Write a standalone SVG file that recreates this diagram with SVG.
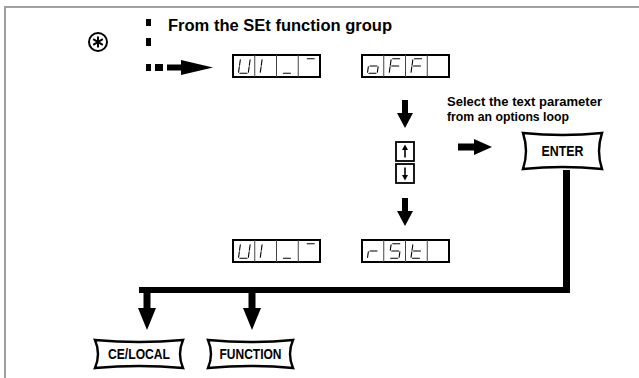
<svg xmlns="http://www.w3.org/2000/svg" xmlns:xlink="http://www.w3.org/1999/xlink" width="639" height="378" viewBox="0 0 639 378">
<style>
.frame{stroke:#a0a0a0;stroke-width:2;fill:none}
.lbl{font-family:"Liberation Sans",Arial,sans-serif;font-weight:bold;fill:#000}
.disp{fill:#fff;stroke:#000;stroke-width:2}
.sep{stroke:#444;stroke-width:1}
.seg{stroke:#000;stroke-width:1.1;fill:none;stroke-linecap:round}
.btn{fill:#fff;stroke:#000;stroke-width:2.4;stroke-linejoin:miter}
.blk{fill:#000}
.small{fill:#fff;stroke:#000;stroke-width:1.8}
</style>
<defs>
<path id="sa" d="M8,3.8 H15"/>
<path id="sf" d="M6.5,4.8 V10.3"/>
<path id="sb" d="M16.3,4.8 V10.3"/>
<path id="sg" d="M8,11 H15"/>
<path id="se" d="M6.5,11.8 V17.3"/>
<path id="sc" d="M16.3,11.8 V17.3"/>
<path id="sd" d="M8,18.3 H15"/>
</defs>

<g id="frame">
<path class="frame" d="M5,378 V7 H639"/>
</g>

<g id="note">
<circle cx="98" cy="42" r="9" fill="none" stroke="#000" stroke-width="2"/>
<path d="M98,36.5 V47.5 M93.2,39.2 L102.8,44.8 M93.2,44.8 L102.8,39.2" stroke="#000" stroke-width="2"/>
<text class="lbl" x="168" y="31" font-size="16" textLength="224" lengthAdjust="spacingAndGlyphs">From the SEt function group</text>
</g>

<g id="connectors">
<rect class="blk" x="146" y="19" width="5" height="7"/>
<rect class="blk" x="146" y="38" width="5" height="8"/>
<rect class="blk" x="146" y="64" width="5" height="7"/>
<rect class="blk" x="155" y="64" width="8" height="7"/>
<path class="blk" d="M167,64.5 H181 V60 L213,67.5 L181,75 V70.5 H167 Z"/>
<path class="blk" d="M402,100 H408 V113 H413 L405,128 L397,113 H402 Z"/>
<path class="blk" d="M402,198 H408 V211 H413 L405,226 L397,211 H402 Z"/>
<path class="blk" d="M458,143.5 H474 V139 L492,147 L474,155 V150.5 H458 Z"/>
<path class="blk" d="M563,170 H570 V293 H139 V287 H563 Z"/>
<path class="blk" d="M143.5,293 H150.5 V308 H156 L147,330 L138,308 H143.5 Z"/>
<path class="blk" d="M248.5,293 H255.5 V308 H261 L252,330 L243,308 H248.5 Z"/>
</g>

<g id="disp-ui-top">
<rect class="disp" x="233" y="55" width="87" height="22"/>
<path class="sep" d="M254.75,55 V77 M276.5,55 V77 M298.25,55 V77"/>
<g class="seg" transform="translate(234.5,55) skewX(-8)"><use href="#sf"/><use href="#se"/><use href="#sd"/><use href="#sc"/><use href="#sb"/></g>
<g class="seg" transform="translate(256.25,55) skewX(-8)"><use href="#sf"/><use href="#se"/></g>
<g class="seg" transform="translate(278,55) skewX(-8)"><use href="#sd"/></g>
<g class="seg" transform="translate(299.75,55) skewX(-8)"><use href="#sa"/></g>
</g>

<g id="disp-off">
<rect class="disp" x="362" y="55" width="87" height="22"/>
<path class="sep" d="M383.75,55 V77 M405.5,55 V77 M427.25,55 V77"/>
<g class="seg" transform="translate(363.5,55) skewX(-8)"><use href="#sg"/><use href="#se"/><use href="#sd"/><use href="#sc"/></g>
<g class="seg" transform="translate(385.25,55) skewX(-8)"><use href="#sa"/><use href="#sf"/><use href="#sg"/><use href="#se"/></g>
<g class="seg" transform="translate(407,55) skewX(-8)"><use href="#sa"/><use href="#sf"/><use href="#sg"/><use href="#se"/></g>
</g>

<g id="key-up">
<rect class="small" x="396" y="142" width="18" height="19"/>
<path d="M405,157.5 V149" stroke="#000" stroke-width="1.6"/>
<path class="blk" d="M402,150 L405,144.5 L408,150 Z"/>
</g>

<g id="key-down">
<rect class="small" x="396" y="164" width="18" height="19"/>
<path d="M405,167.5 V176" stroke="#000" stroke-width="1.6"/>
<path class="blk" d="M402,175 L405,180.5 L408,175 Z"/>
</g>

<g id="hint">
<text class="lbl" x="447" y="106" font-size="13" textLength="155" lengthAdjust="spacingAndGlyphs">Select the text parameter</text>
<text class="lbl" x="447" y="121" font-size="13" textLength="122" lengthAdjust="spacingAndGlyphs">from an options loop</text>
</g>

<g id="btn-enter">
<path class="btn" d="M523,133 Q562.5,137 602,133 Q596,151 602,169 Q562.5,165 523,169 Q529,151 523,133 Z"/>
<text class="lbl" x="562.5" y="156" font-size="14" text-anchor="middle" textLength="42" lengthAdjust="spacingAndGlyphs">ENTER</text>
</g>

<g id="disp-ui-bottom">
<rect class="disp" x="233" y="240" width="87" height="22"/>
<path class="sep" d="M254.75,240 V262 M276.5,240 V262 M298.25,240 V262"/>
<g class="seg" transform="translate(234.5,240) skewX(-8)"><use href="#sf"/><use href="#se"/><use href="#sd"/><use href="#sc"/><use href="#sb"/></g>
<g class="seg" transform="translate(256.25,240) skewX(-8)"><use href="#sf"/><use href="#se"/></g>
<g class="seg" transform="translate(278,240) skewX(-8)"><use href="#sd"/></g>
<g class="seg" transform="translate(299.75,240) skewX(-8)"><use href="#sa"/></g>
</g>

<g id="disp-rst">
<rect class="disp" x="362" y="240" width="87" height="22"/>
<path class="sep" d="M383.75,240 V262 M405.5,240 V262 M427.25,240 V262"/>
<g class="seg" transform="translate(363.5,240) skewX(-8)"><use href="#sg"/><use href="#se"/></g>
<g class="seg" transform="translate(385.25,240) skewX(-8)"><use href="#sa"/><use href="#sf"/><use href="#sg"/><use href="#sc"/><use href="#sd"/></g>
<g class="seg" transform="translate(407,240) skewX(-8)"><use href="#sf"/><use href="#sg"/><use href="#se"/><use href="#sd"/></g>
</g>

<g id="btn-celocal">
<path class="btn" d="M95,340 Q139,344 183,340 Q177,354 183,368 Q139,364 95,368 Q101,354 95,340 Z"/>
<text class="lbl" x="139" y="359" font-size="14" text-anchor="middle" textLength="62" lengthAdjust="spacingAndGlyphs">CE/LOCAL</text>
</g>

<g id="btn-function">
<path class="btn" d="M208,340 Q250.5,344 293,340 Q287,354 293,368 Q250.5,364 208,368 Q214,354 208,340 Z"/>
<text class="lbl" x="250.5" y="359" font-size="14" text-anchor="middle" textLength="62" lengthAdjust="spacingAndGlyphs">FUNCTION</text>
</g>
</svg>
